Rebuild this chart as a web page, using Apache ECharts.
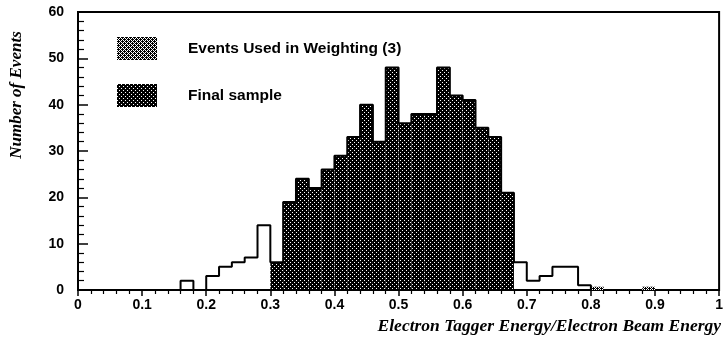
<!DOCTYPE html>
<html>
<head>
<meta charset="utf-8">
<script src="https://cdn.jsdelivr.net/npm/echarts@6/dist/echarts.min.js"></script>
<style>
  html, body { margin: 0; padding: 0; background: #fff; }
  #chart { width: 726px; height: 341px; }
</style>
</head>
<body>
<div id="chart"></div>
<script>
// Histogram of tagger energy fraction, 0.02-wide bins
const binWidth = 0.02;

// All events (outline), bins starting at 0.16
const totalStart = 0.16;
const totalCounts = [2, 0, 3, 5, 6, 7, 14, 6, 19, 24, 22, 26, 29, 33, 40, 32, 48, 36, 38, 38, 48, 42, 41, 35, 33, 21, 6, 2, 3, 5, 5, 1];

// Final sample (dark fill), bins starting at 0.30
const finalStart = 0.30;
const finalCounts = [6, 19, 24, 22, 26, 29, 33, 40, 32, 48, 36, 38, 38, 48, 42, 41, 35, 33, 21];

// Events used in weighting (light fill)
const weightStarts = [0.80, 0.88];
const weightCounts = [0.7, 0.7];

const xTicks = ['0', '0.1', '0.2', '0.3', '0.4', '0.5', '0.6', '0.7', '0.8', '0.9', '1'];
const yTicks = [0, 10, 20, 30, 40, 50, 60];

const seriesNames = ['Events Used in Weighting (3)', 'Final sample'];
const xTitle = 'Electron Tagger Energy/Electron Beam Energy';
const yTitle = 'Number of Events';

function round2(v) { return Math.round(v * 100) / 100; }

function makePattern(kind) {
  const c = document.createElement('canvas');
  c.width = 4; c.height = 4;
  const g = c.getContext('2d');
  if (kind === 'dark') {
    g.fillStyle = '#000';
    g.fillRect(0, 0, 4, 4);
    g.fillStyle = '#fff';
    g.fillRect(0, 0, 1, 1);
    g.fillRect(2, 2, 1, 1);
  } else {
    g.fillStyle = '#fff';
    g.fillRect(0, 0, 4, 4);
    g.fillStyle = '#000';
    for (let y = 0; y < 4; y++) {
      for (let x = 0; x < 4; x++) {
        if ((x + y) % 2 === 0) g.fillRect(x, y, 1, 1);
      }
    }
    g.fillRect(1, 0, 1, 1);
    g.fillRect(3, 2, 1, 1);
  }
  return { image: c, repeat: 'repeat' };
}

const darkFill = makePattern('dark');
const lightFill = makePattern('light');

function binData(start, counts) {
  return counts.map((v, i) => [round2(start + i * binWidth), round2(start + (i + 1) * binWidth), v]);
}

const finalData = binData(finalStart, finalCounts);
const weightData = weightStarts.map((s, i) => [s, round2(s + binWidth), weightCounts[i]]);

// Step outline of the full histogram
const outline = [[totalStart, 0]];
totalCounts.forEach((v, i) => outline.push([round2(totalStart + i * binWidth), v]));
outline.push([round2(totalStart + totalCounts.length * binWidth), 0]);

function barRenderer(fill) {
  return function (params, api) {
    const p0 = api.coord([api.value(0), api.value(2)]);
    const p1 = api.coord([api.value(1), 0]);
    return {
      type: 'rect',
      shape: { x: p0[0], y: p0[1], width: p1[0] - p0[0], height: p1[1] - p0[1] },
      style: { fill: fill }
    };
  };
}

const chart = echarts.init(document.getElementById('chart'), null, { renderer: 'canvas' });

const labelFont = { color: '#000', fontFamily: 'Liberation Sans, Arial, sans-serif', fontWeight: 'bold', fontSize: 14 };

chart.setOption({
  animation: false,
  backgroundColor: '#fff',
  grid: { left: 78, right: 3, top: 12, bottom: 51, show: true, borderColor: '#000', borderWidth: 2, backgroundColor: 'transparent' },
  legend: {
    orient: 'vertical',
    left: 117,
    top: 37,
    padding: 0,
    itemWidth: 40,
    itemHeight: 23,
    itemGap: 24,
    icon: 'rect',
    data: seriesNames,
    textStyle: { color: '#000', fontFamily: 'Liberation Sans, Arial, sans-serif', fontWeight: 'bold', fontSize: 15.5, padding: [0, 0, 0, 26] }
  },
  xAxis: {
    type: 'value',
    min: 0, max: 1, interval: 0.1,
    name: xTitle,
    nameLocation: 'end',
    nameGap: 2,
    nameTextStyle: {
      color: '#000', fontFamily: 'Liberation Serif, Times New Roman, serif', fontStyle: 'italic', fontWeight: 'bold', fontSize: 17.5,
      align: 'right', verticalAlign: 'top', padding: [27, 0, 0, 0]
    },
    axisLine: { show: true, lineStyle: { color: '#000', width: 2 } },
    axisTick: { show: true, inside: false, length: 6, lineStyle: { color: '#000', width: 1.5 } },
    minorTick: { show: true, splitNumber: 5, length: 4, lineStyle: { color: '#000', width: 1.2 } },
    splitLine: { show: false },
    axisLabel: Object.assign({ margin: 8, formatter: (v) => xTicks[Math.round(v * 10)] }, labelFont)
  },
  yAxis: {
    type: 'value',
    min: 0, max: 60, interval: 10,
    axisLine: { show: true, lineStyle: { color: '#000', width: 2 } },
    axisTick: { show: true, inside: true, length: 10, lineStyle: { color: '#000', width: 1.5 } },
    minorTick: { show: true, splitNumber: 5, length: 6, lineStyle: { color: '#000', width: 1.2 } },
    splitLine: { show: false },
    axisLabel: Object.assign({ margin: 14, formatter: (v) => String(yTicks[Math.round(v / 10)]) }, labelFont)
  },
  graphic: [{
    type: 'text',
    x: 17,
    y: 95,
    rotation: Math.PI / 2,
    style: {
      text: yTitle,
      fill: '#000',
      font: 'italic bold 17px "Liberation Serif", "Times New Roman", serif',
      align: 'center',
      verticalAlign: 'middle'
    }
  }],
  series: [
    {
      name: seriesNames[0],
      type: 'custom',
      itemStyle: { color: lightFill },
      renderItem: barRenderer(lightFill),
      encode: { x: [0, 1], y: 2 },
      data: weightData,
      z: 3
    },
    {
      name: seriesNames[1],
      type: 'custom',
      itemStyle: { color: darkFill },
      renderItem: barRenderer(darkFill),
      encode: { x: [0, 1], y: 2 },
      data: finalData,
      z: 2
    },
    {
      name: 'outline',
      type: 'line',
      step: 'end',
      symbol: 'none',
      lineStyle: { color: '#000', width: 2 },
      data: outline,
      z: 4
    }
  ]
});
</script>
</body>
</html>
